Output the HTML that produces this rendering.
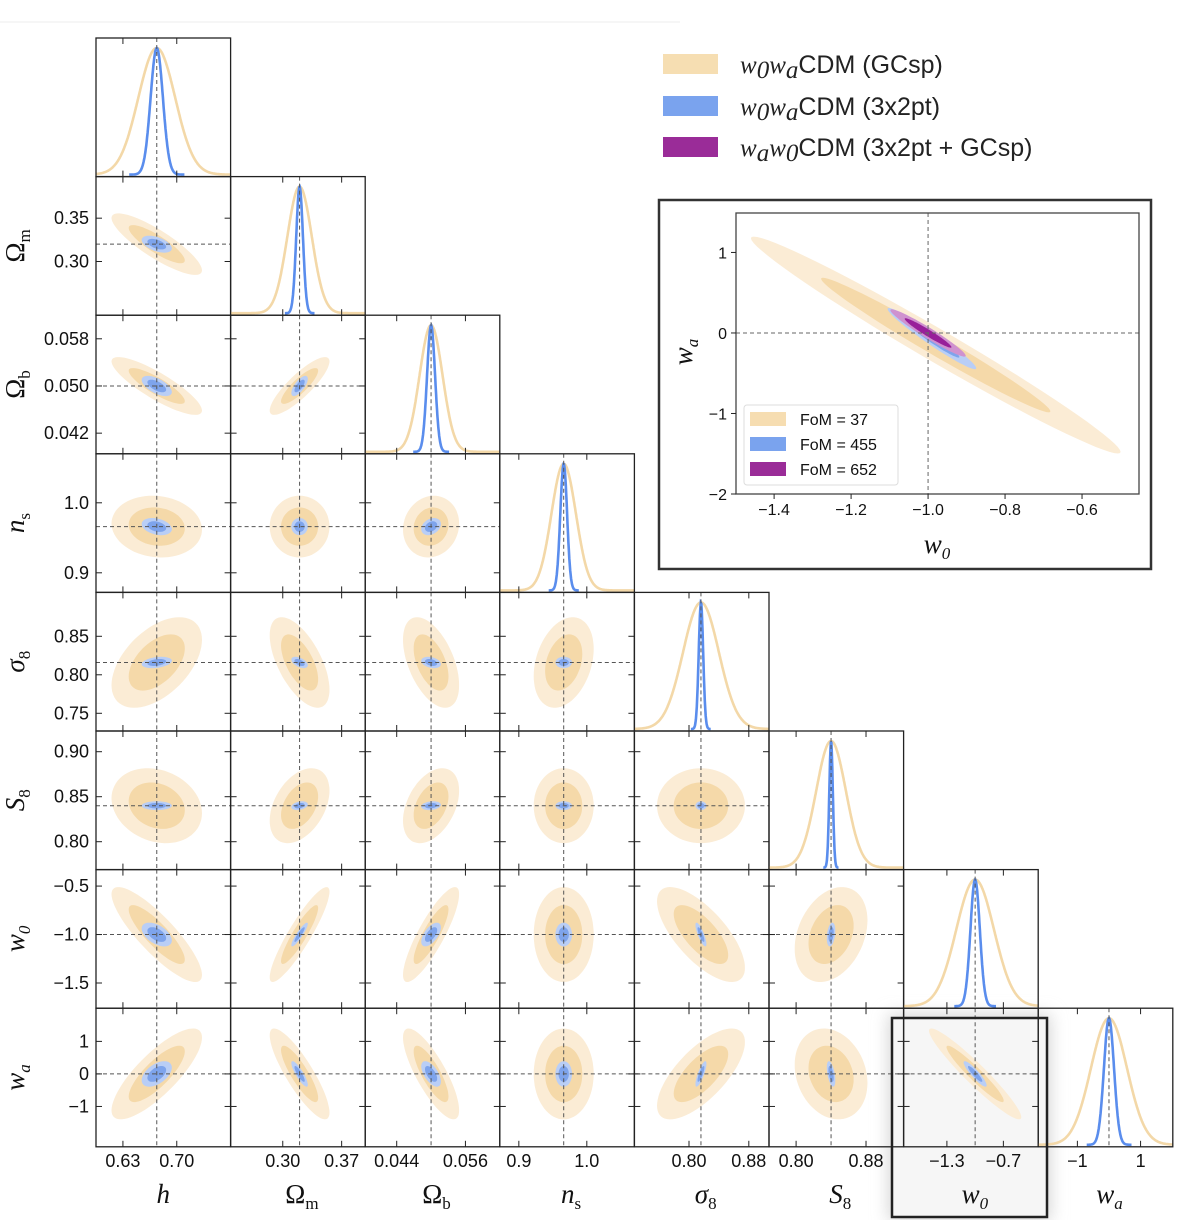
<!DOCTYPE html>
<html><head><meta charset="utf-8">
<style>
html,body{margin:0;padding:0;background:#fff;}
svg{display:block;}
.tk{font-family:"Liberation Sans",sans-serif;font-size:18px;fill:#111;}
.al{font-family:"Liberation Serif",serif;font-style:italic;font-size:27px;fill:#111;}
.up{font-style:normal;}
.sub{font-size:17px;}
.lg{font-family:"Liberation Sans",sans-serif;font-size:25px;fill:#222;}
.lgm{font-family:"Liberation Serif",serif;font-style:italic;font-size:25px;}
.il{font-family:"Liberation Sans",sans-serif;font-size:16px;fill:#111;}
</style></head>
<body>
<svg id="fig" width="1180" height="1220" viewBox="0 0 1180 1220" xmlns="http://www.w3.org/2000/svg">
<defs>
<filter id="glow" x="-30%" y="-30%" width="160%" height="160%"><feGaussianBlur stdDeviation="8"/></filter>
</defs>
<line x1="0" y1="22" x2="680" y2="22" stroke="#eee" stroke-width="1"/>
<rect x="888" y="1014" width="163" height="207" fill="#d8d8d8" filter="url(#glow)"/>
<rect x="892" y="1018" width="155" height="199" fill="#f6f6f6"/>
<g id="panels"></g>
<rect x="892" y="1018" width="155" height="199" fill="none" stroke="#222" stroke-width="2.5"/>
<g id="legend">
  <rect x="663" y="54" width="55" height="20" fill="#f6deb2"/>
  <text x="740" y="73" class="lg"><tspan class="lgm">w</tspan><tspan class="lgm sub" dy="5">0</tspan><tspan class="lgm" dy="-5">w</tspan><tspan class="lgm sub" dy="5">a</tspan><tspan dy="-5">CDM (GCsp)</tspan></text>
  <rect x="663" y="96" width="55" height="20" fill="#7aa3ee"/>
  <text x="740" y="115" class="lg"><tspan class="lgm">w</tspan><tspan class="lgm sub" dy="5">0</tspan><tspan class="lgm" dy="-5">w</tspan><tspan class="lgm sub" dy="5">a</tspan><tspan dy="-5">CDM (3x2pt)</tspan></text>
  <rect x="663" y="137" width="55" height="20" fill="#9a2c98"/>
  <text x="740" y="156" class="lg"><tspan class="lgm">w</tspan><tspan class="lgm sub" dy="5">a</tspan><tspan class="lgm" dy="-5">w</tspan><tspan class="lgm sub" dy="5">0</tspan><tspan dy="-5">CDM (3x2pt + GCsp)</tspan></text>
</g>
<rect x="659" y="200" width="492" height="369" fill="#fff" stroke="#333" stroke-width="2.5"/>
<g id="inset"></g>
</svg>
<script>
const NS="http://www.w3.org/2000/svg";
// ---- corner data ----
const fid=[0.674,0.32,0.05,0.966,0.816,0.84,-1,0];
const lo=[0.595,0.238,0.0385,0.872,0.727,0.769,-1.76,-2.24];
const hi=[0.770,0.398,0.062,1.070,0.907,0.923,-0.33,2.02];
const sigGC=[0.024,0.0145,0.002,0.018,0.024,0.017,0.2,0.57];
const sig3x2=[0.008,0.004,0.0007,0.005,0.003,0.002,0.05,0.16];
const corrGC=[[],[-0.85],[-0.85,0.85],[-0.1,0.0,0.1],[0.5,-0.6,-0.5,0.3],[-0.2,0.4,0.4,0.0,0.0],[-0.85,0.9,0.85,0.0,-0.7,0.3],[0.8,-0.85,-0.8,0.0,0.7,-0.2,-0.95]];
const corr3=[[],[-0.5],[-0.6,0.7],[-0.3,0.0,0.3],[0.3,-0.5,-0.3,0.0],[0.0,0.3,0.2,0.0,0.0],[-0.5,0.9,0.6,0.0,-0.8,0.3],[0.5,-0.85,-0.6,0.0,0.8,-0.5,-0.9]];
const xticks=[[0.63,0.70],[0.30,0.37],[0.044,0.056],[0.9,1.0],[0.80,0.88],[0.80,0.88],[-1.3,-0.7],[-1,1]];
const xtickLabels=[["0.63","0.70"],["0.30","0.37"],["0.044","0.056"],["0.9","1.0"],["0.80","0.88"],["0.80","0.88"],["\u22121.3","\u22120.7"],["\u22121","1"]];
const yticks=[[],[0.35,0.30],[0.058,0.050,0.042],[1.0,0.9],[0.85,0.80,0.75],[0.90,0.85,0.80],[-0.5,-1.0,-1.5],[1,0,-1]];
const ytickLabels=[[],["0.35","0.30"],["0.058","0.050","0.042"],["1.0","0.9"],["0.85","0.80","0.75"],["0.90","0.85","0.80"],["\u22120.5","\u22121.0","\u22121.5"],["1","0","\u22121"]];
const pnames=["h","omega-m","omega-b","n-s","sigma-8","s-8","w0","wa"];
// ---- inset data ----
const insetCenters=[[-0.98,-0.15],[-0.99,-0.07],[-1.0,0.0]];
const insetSig=[[0.196,0.55],[0.047,0.155],[0.04,0.12]];
const insetRho=[-0.985,-0.97,-0.965];
const insetFoM=["37","455","652"];
const insetXticks=[-1.4,-1.2,-1.0,-0.8,-0.6];
const insetXtickLabels=["\u22121.4","\u22121.2","\u22121.0","\u22120.8","\u22120.6"];
const insetYticks=[1,0,-1,-2];
const insetYtickLabels=["1","0","\u22121","\u22122"];

const X0=96,PW=134.6,Y0=38,PH=138.6;
const R1=1.52,R2=2.45;
const colO=["#fbecd5","#f5d9a9"],colB=["#b9cef6","#7ea4ec"],colP=["#cf92cf","#98209a"];

function mk(tag,attrs,parent){const e=document.createElementNS(NS,tag);for(const k in attrs)e.setAttribute(k,attrs[k]);parent.appendChild(e);return e;}
function sx(j,v){return X0+j*PW+(v-lo[j])/(hi[j]-lo[j])*PW;}
function sy(i,v){return Y0+(i+1)*PH-(v-lo[i])/(hi[i]-lo[i])*PH;}
function ellPts(cx,cy,a,b,rp,r){let s="";for(let k=0;k<=72;k++){const t=k/72*2*Math.PI;const px=cx+r*a*Math.cos(t);const py=cy+r*b*(rp*Math.cos(t)+Math.sqrt(1-rp*rp)*Math.sin(t));s+=px.toFixed(1)+","+py.toFixed(1)+" ";}return s;}

const G=document.getElementById("panels");
for(let i=0;i<8;i++){
  for(let j=0;j<=i;j++){
    const px=X0+j*PW,py=Y0+i*PH;
    const g=mk("g",{},G);
    
    
    const clipId="c"+i+"_"+j;
    const cp=mk("clipPath",{id:clipId},g);mk("rect",{x:px,y:py,width:PW,height:PH},cp);
    const inner=mk("g",{"clip-path":"url(#"+clipId+")"},g);
    if(i===j){
      const sets=[[sigGC[j],"#f3d8a8",99],[sig3x2[j],"#5a8ded",4.5]];
      sets.forEach((s,si)=>{
        let d="";let first=true;
        for(let k=0;k<=300;k++){const v=lo[j]+(hi[j]-lo[j])*k/300;const z=(v-fid[j])/s[0];
          if(Math.abs(z)>s[2])continue;
          const p=Math.exp(-0.5*z*z);
          const x=sx(j,v),y=py+PH-2-(PH-12)*p;d+=(first?"M":"L")+x.toFixed(1)+","+y.toFixed(1);first=false;}
        const pth=mk("path",{d:d,fill:"none",stroke:s[1],"stroke-width":2.6},inner);
        
        
      });
      mk("line",{x1:sx(j,fid[j]),x2:sx(j,fid[j]),y1:py,y2:py+PH,stroke:"#555","stroke-width":1,"stroke-dasharray":"4,3"},inner);
    } else {
      const cx=sx(j,fid[j]),cy=sy(i,fid[i]);
      const kx=PW/(hi[j]-lo[j]),ky=PH/(hi[i]-lo[i]);
      [[sigGC,corrGC,colO,"gcsp"],[sig3x2,corr3,colB,"3x2pt"]].forEach(S=>{
        const a=S[0][j]*kx,b=S[0][i]*ky,rp=-S[1][i][j];
        [R2,R1].forEach((r,ri)=>{
          const e=mk("polygon",{points:ellPts(cx,cy,a,b,rp,r),fill:S[2][ri]},inner);
          
          
        });
      });
      mk("line",{x1:cx,x2:cx,y1:py,y2:py+PH,stroke:"#555","stroke-width":1,"stroke-dasharray":"4,3"},inner);
      mk("line",{x1:px,x2:px+PW,y1:cy,y2:cy,stroke:"#555","stroke-width":1,"stroke-dasharray":"4,3"},inner);
      yticks[i].forEach(v=>{const y=sy(i,v);mk("line",{x1:px,x2:px+6,y1:y,y2:y,stroke:"#222"},g);mk("line",{x1:px+PW-6,x2:px+PW,y1:y,y2:y,stroke:"#222"},g);});
    }
    xticks[j].forEach(v=>{const x=sx(j,v);mk("line",{x1:x,x2:x,y1:py,y2:py+6,stroke:"#222"},g);mk("line",{x1:x,x2:x,y1:py+PH-6,y2:py+PH,stroke:"#222"},g);});
    const fr=mk("rect",{x:px,y:py,width:PW,height:PH,fill:"none",stroke:"#222","stroke-width":1.3},g);
    
    
  }
}
for(let j=0;j<8;j++){
  xticks[j].forEach((v,k)=>{const t=mk("text",{x:sx(j,v),y:1167,"text-anchor":"middle",class:"tk"},G);t.textContent=xtickLabels[j][k];
    
    });
}
for(let i=1;i<8;i++){
  yticks[i].forEach((v,k)=>{const t=mk("text",{x:89,y:sy(i,v)+6,"text-anchor":"end",class:"tk"},G);t.textContent=ytickLabels[i][k];
    
    });
}
const labMain=["h","\u03A9","\u03A9","n","\u03C3","S","w","w"];
const labSub=["","m","b","s","8","8","0","a"];
const labUp=[false,true,true,false,false,false,false,false];
const subUp=[false,true,true,true,true,true,false,false];
function label(x,y,rot,k,nm){
  const t=mk("text",{x:x,y:y,"text-anchor":"middle",class:"al",transform:rot?"rotate(-90 "+x+" "+y+")":""},G);
  
  
  const a=mk("tspan",{},t);a.textContent=labMain[k];if(labUp[k])a.setAttribute("class","up");
  if(labSub[k]){const b=mk("tspan",{class:"sub"+(subUp[k]?" up":""),dy:6},t);b.textContent=labSub[k];}
}
for(let j=0;j<8;j++) label(X0+j*PW+PW/2+(labSub[j]?4:0),1203,false,j,'x-axis-title-'+pnames[j]);
for(let i=1;i<8;i++) label(24,Y0+i*PH+PH/2,true,i,'y-axis-title-'+pnames[i]);

// ---- inset ----
const I=document.getElementById("inset");
const IX0=736,IX1=1139,IY0=213,IY1=494,ixlo=-1.499,ixhi=-0.452,iylo=-2.0,iyhi=1.49;
function ix(v){return IX0+(v-ixlo)/(ixhi-ixlo)*(IX1-IX0);}
function iy(v){return IY1-(v-iylo)/(iyhi-iylo)*(IY1-IY0);}
const icol=[colO,colB,colP],inames=["gcsp","3x2pt","combined"];
const icp=mk("clipPath",{id:"ic"},I);mk("rect",{x:IX0,y:IY0,width:IX1-IX0,height:IY1-IY0},icp);
const ig=mk("g",{"clip-path":"url(#ic)"},I);
for(let s=0;s<3;s++){
  const a=insetSig[s][0]*(IX1-IX0)/(ixhi-ixlo),b=insetSig[s][1]*(IY1-IY0)/(iyhi-iylo);
  [R2,R1].forEach((r,ri)=>{
    const e=mk("polygon",{points:ellPts(ix(insetCenters[s][0]),iy(insetCenters[s][1]),a,b,-insetRho[s],r),fill:icol[s][ri]},ig);
    
    
  });
}
mk("line",{x1:ix(-1),x2:ix(-1),y1:IY0,y2:IY1,stroke:"#666","stroke-dasharray":"4,3"},ig);
mk("line",{x1:IX0,x2:IX1,y1:iy(0),y2:iy(0),stroke:"#666","stroke-dasharray":"4,3"},ig);
const iframe=mk("rect",{x:IX0,y:IY0,width:IX1-IX0,height:IY1-IY0,fill:"none",stroke:"#444","stroke-width":1.3},I);


insetXticks.forEach((v,k)=>{mk("line",{x1:ix(v),x2:ix(v),y1:IY1,y2:IY1+5,stroke:"#222"},I);
  const t=mk("text",{x:ix(v),y:IY1+21,"text-anchor":"middle",class:"il"},I);t.textContent=insetXtickLabels[k];
  
  });
insetYticks.forEach((v,k)=>{mk("line",{x1:IX0-5,x2:IX0,y1:iy(v),y2:iy(v),stroke:"#222"},I);
  const t=mk("text",{x:IX0-9,y:iy(v)+6,"text-anchor":"end",class:"il"},I);t.textContent=insetYtickLabels[k];
  
  });
const ixl=mk("text",{x:937,y:553,"text-anchor":"middle",class:"al"},I);


ixl.innerHTML='w<tspan class="sub" dy="6">0</tspan>';
const iyl=mk("text",{x:692,y:352,"text-anchor":"middle",class:"al",transform:"rotate(-90 692 352)"},I);


iyl.innerHTML='w<tspan class="sub" dy="6">a</tspan>';
const lb=mk("rect",{x:744,y:405,width:154,height:80,rx:3,fill:"#fff","fill-opacity":0.85,stroke:"#ddd"},I);


const lcol=["#f6ddb1","#7aa3ee","#9a2c98"];
for(let s=0;s<3;s++){
  const r=mk("rect",{x:750,y:412+s*25,width:36,height:14,fill:lcol[s]},I);
  
  
  const t=mk("text",{x:800,y:425+s*25,class:"il"},I);
  t.textContent="FoM = "+insetFoM[s];
  
  
}
</script>
</body></html>
